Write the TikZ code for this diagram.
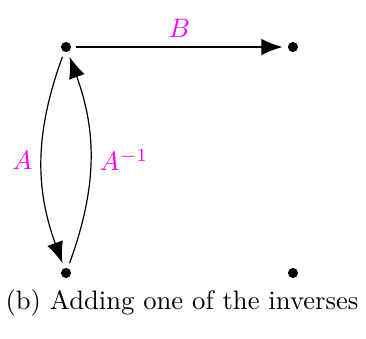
\documentclass[tikz,border=0pt]{standalone}
\usetikzlibrary{arrows.meta}
\definecolor{mag}{rgb}{1,0,1}
\begin{document}
\begin{tikzpicture}[x=0.375pt,y=-0.375pt,
  dot/.style={circle,fill=black,inner sep=0pt,minimum size=3.8pt,outer sep=2pt},
  arr/.style={-{Latex[length=8pt,width=6.2pt]},line width=0.45pt},
  lbl/.style={text=mag}]
\useasboundingbox (0,0) rectangle (366,338);
\node[dot] (tl) at (66,47) {};
\node[dot] (tr) at (293,47) {};
\node[dot] (bl) at (66,273) {};
\node[dot] (br) at (293,273) {};
\draw[arr] (tl) -- node[lbl,above=0pt] {$B$} (tr);
\draw[arr] (tl) to[bend right=20] node[lbl,left=0pt] {$A$} (bl);
\draw[arr] (bl) to[bend right=20] node[lbl,right=0pt] {$A^{-1}$} (tl);
\node (cap) at (182,303) {(b) Adding one of the inverses};
\end{tikzpicture}
\end{document}
